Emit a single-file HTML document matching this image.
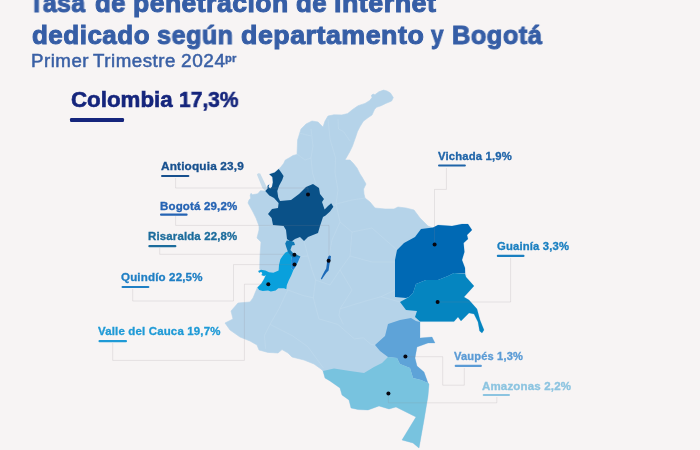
<!DOCTYPE html>
<html><head><meta charset="utf-8">
<style>
html,body{margin:0;padding:0;}
body{width:700px;height:450px;overflow:hidden;background:#f7f4f4;font-family:"Liberation Sans",sans-serif;position:relative;}
.t{position:absolute;white-space:nowrap;font-weight:bold;line-height:1;will-change:transform;}
.h1{top:-10.5px;font-size:26px;letter-spacing:0.45px;color:#365ea6;-webkit-text-stroke:1px #365ea6;}
.h2{top:22px;font-size:26px;letter-spacing:0.48px;color:#365ea6;-webkit-text-stroke:1px #365ea6;}
.h3{top:51.6px;font-size:18px;letter-spacing:0.5px;color:#3a60a5;font-weight:normal;-webkit-text-stroke:0.5px #3a60a5;}
.pr{top:54px;font-size:10px;letter-spacing:0.2px;}
.col{top:89px;font-size:22px;color:#15257c;-webkit-text-stroke:0.6px #15257c;}
#colu{position:absolute;left:69.5px;top:118.4px;width:54px;height:3.2px;border-radius:1.2px;background:#15257c;}
.w{transform-origin:0 0;}
.lb{font-size:10.5px;letter-spacing:0.15px;-webkit-text-stroke:0.3px;transform-origin:0 0;}
svg{position:absolute;left:0;top:0;}
</style></head><body>
<svg id="map" width="700" height="450" viewBox="0 0 700 450">
<polygon points="371.4,95.3 373.1,94.1 374.9,94.7 378.9,91.8 383.5,90.1 387,91 390.4,93 393.3,97.6 391.6,101 385.8,103.4 381.2,105.7 376.5,107.3 374.5,109.5 372,115 367.9,117.8 363.3,121.3 359.8,127 357.5,131.5 356,136 354.6,140 352.5,146 349.6,152 345,160 350,160 353,163 357,168 360,174 362,177 366,184 363.6,189 364,194 365,198 370,202 375,208 385,209 394,209 398,207 406,208 414,210 420,218 428,226 433,228 438,225 452,226 462,224 468,224 472,230 467,235 468,239 463.6,243 464.4,252 462,260 465,268 466,277 474,286 464,297 469,300 477,309 480,320 484,330 482,333 479.6,331 478,322 474,314 469,313 461,321 458,317 454,321.6 420,321.6 420,338 432,337 435,343 428,343 417,347 415,358 417,366 424,372 428,383 429,384 428,396 424,420 419,448 413,443 402,440 416,417 410,414 400,409 396,407 389,409 379,406 368,410 358,409.6 351,408 349,400 342,395 340,388 330,381 325,378 323,371 321,369 314,364 304,360 292,357 288,353 282,349.6 278,353 268,352.4 259,350 257,345 250,341 240,337 230,330 225,323 233,319 231,311 238,303 250,302 253,298 257.4,287.4 261.4,283.4 264.1,279 265.9,275 264.1,275.9 261.4,275 262.3,274.1 261.9,272.3 260.6,271.9 259.2,272.8 258.3,271 261,269.7 259.7,269.2 260,256 261,242 257,238 259,230 259,226 256,218 253,212 248,203 249,200 250.7,198.2 250.2,195.1 251.1,193.3 252.4,194.7 257.8,193.8 260.4,190.7 265.3,191.1 267.6,188.4 267.6,185.8 269.3,184.4 268.4,187.1 270.2,188.4 272,186.7 272.9,182.2 272.4,176.9 269.3,174.2 274.7,172.4 278.7,168.9 280.4,167.6 283.6,163.6 285.3,160 289,158 293,155.5 297,154.4 297.6,140 301,129 306,124 312,121 318,122 323,127 325,121 328,116 334,114.8 341.9,114.9 347.7,113.6 352.3,109.7 358.1,105.7 365,103.4 369.7,100.5 372,97.6" fill="#b5d3e9" stroke="#b5d3e9" stroke-width="0.6" stroke-linejoin="round"/>
<polygon points="256.9,174.4 258.2,173.2 260.2,173.4 267.4,188.6 265.3,191 262.4,188" fill="#c6dbea" />
<g fill="none" stroke="#c6deef" stroke-width="0.7" stroke-linejoin="round" stroke-opacity="0.6"><path d="M315.6,280 L313.3,297.8 L318.9,318.9 L337.8,324.4 L354.4,338.9 L363.3,337.8 L371,344.4 L375,345"/><path d="M340,308.9 L365.6,301 L381,296.7 L400,302"/><path d="M340,309 L339,315.6 L343.3,324.4"/><path d="M287.8,290 L278.9,308.9 L270,324.4 L264.4,335.6 L265.6,348.9"/><path d="M270,324.4 L292.2,335.6 L307.8,346.7 L323.3,367.8"/><path d="M287.8,290 L303,295.5 L313.3,297.8"/><path d="M311,129 L313,146 L311,158 L312.5,173 L316,184"/><path d="M328,119 L330,139 L335.6,158 L335,173 L338,190 L336,204"/><path d="M338,119 L338.5,129 L343.6,131.7 L350,141"/><path d="M298.8,133 L311,136"/><path d="M297,154 L305,160 L311,158"/><path d="M336,204 L352,200 L365,198"/><path d="M336,204 L340,222 L352,232 L372,228 L397,250"/><path d="M333,207 L336,204"/><path d="M340,222 L332,240 L329,256"/><path d="M352,232 L350,256 L340,270 L330,285 L315.6,280"/><path d="M350,256 L372,262 L395,262"/><path d="M340,270 L352,290 L340,308.9"/><path d="M395,290 L381,296.7"/><path d="M304,241 L308,256 L301,256.5"/><path d="M308,256 L312,270 L315.6,280"/><path d="M300,258 L296,268 L293.4,270.1"/><path d="M259,226 L268,226 L273,225"/><path d="M286.3,289.2 L287.8,290"/></g>
<polygon points="278.7,168.9 280.9,172 283.6,176 282.2,180 279.1,185.8 277.3,191.1 278.2,197.3 280,201 291,200 299,194 306,187 313,184 319,188 320,194 324,199 322,202 324.6,209.6 328,206 331.2,203.2 333.4,206.8 330,211.6 325.6,215.5 323,217 320,226 318,233 308,237 304,241 300,237 295,239 291,242 287,239 286,230 283.6,226 273,225 271.6,218 268,214 272,209 278,208 278.6,203 274,198 269.3,195.6 265.3,191.1 267.6,188.4 267.6,185.8 269.3,184.4 268.4,187.1 270.2,188.4 272,186.7 272.9,182.2 272.4,176.9 269.3,174.2 274.7,172.4" fill="#0a5188" />
<polygon points="433,227.6 438,225 452,226 462,224 468,224 472,230 467,235 468,239 463.6,243 464.4,252 462,260 465,268 465,273.5 454,273 448,276 438,280 426,280 416,284 413,293 409,297 406,298 395,297 395,260 397,250 404,243 415,237 421,229" fill="#0069b4" />
<polygon points="400,302 409,297 413,293 416,284 426,280 438,280 448,276 454,273 465,274 466,277 474,286 464,297 469,300 477,309 480,320 484,330 482,333 479.6,331 478,322 474,314 469,313 461,321 458,317 454,321.6 420,321.6 415,317 417,311 406,310" fill="#0585c0" />
<polygon points="388,324 400,320 411,318 416,321 420,322 420,338 432,337 435,343 428,343 417,347 415,358 417,366 424,372 428,383 421,380 413,378 410,368 400,364 397,358 388,357 380,351 375,345 385,336" fill="#5ea3d8" />
<polygon points="323,371 334,368.4 350,371 364,373 374,367 382,363 388,357 397,358 400,364 410,368 413,378 421,380 428,383 429,384 428,396 424,420 419,448 413,443 402,440 416,417 410,414 400,409 396,407 389,409 379,406 368,410 358,409.6 351,408 349,400 342,395 340,388 330,381 325,378" fill="#78c3df" />
<polygon points="288,251.3 285.2,252.8 282.6,256 280.4,259.2 279,265 278.6,270.4 273.4,272.8 269,272.3 265.4,270.6 261,269.7 258.3,271 259.2,272.8 260.6,271.9 261.9,272.3 262.3,274.1 261.4,275 264.1,275.9 265.9,275 264.1,279 261.4,283.4 257.4,287.4 259.2,290.1 262.8,291 268.1,290.6 270.8,291.4 275.7,290.6 278.3,288.3 284.1,288.3 286.3,289.2 286.8,285.2 288.6,280.8 291.2,275.4 293.4,270.1 291.2,268.3 291.2,260.3 291.7,257.7 290.4,253" fill="#09a0dc" />
<polygon points="286.8,240.4 291,241 294,242 295,245 292,245.6 290.4,250 293,253 300.4,256.4 299.6,258 292.4,258.4 291,256 288,252 286.4,247.6 285.2,243.6" fill="#0e78b4" />
<polygon points="291.7,257.7 300.1,256.8 298.3,261.2 295.7,266.6 293.4,270.1 291.2,268.3 291.2,260.3" fill="#1a86d4" />
<polygon points="329.2,255.6 331,256 330.6,259 329.8,262.4 329.2,266 328.6,270.4 326.4,272.8 323.4,277 321.8,279.4 320.8,278.8 322.6,275 324.4,271.4 326.2,268.6 326.8,264 327.2,260 328,257" fill="#1c6ab8"/>
<g fill="none" stroke="#8a888c" stroke-opacity="0.22" stroke-width="0.8"><path d="M175.6,178 V188 H308 V194"/><path d="M175.6,216 V225.4 H329 V258"/><path d="M159.7,248 V254.3 H294"/><path d="M132.7,289 V301 H233.5 V264.6 H294"/><path d="M112.7,343 V360.4 H244.4 V284.2 H268"/><path d="M446.4,168 V189.4 H434.5 V244"/><path d="M510.6,258 V302 H438"/><path d="M464.3,368 V385.2 H442.7 V356.7 H405.5"/><path d="M496.8,397 V402.8 H388.4 V394"/></g>
<rect x="161.0" y="174.9" width="28.4" height="2.2" rx="1" fill="#17508e"/>
<rect x="160.0" y="213.5" width="27.6" height="2.2" rx="1" fill="#2563b3"/>
<rect x="148.3" y="245.1" width="28.1" height="2.2" rx="1" fill="#1c6c9c"/>
<rect x="121.5" y="285.9" width="27.9" height="2.2" rx="1" fill="#1f7fc4"/>
<rect x="98.5" y="340.1" width="28.5" height="2.2" rx="1" fill="#1f9ad6"/>
<rect x="438.0" y="164.4" width="27.9" height="2.2" rx="1" fill="#1f64a8"/>
<rect x="496.8" y="254.7" width="27.7" height="2.2" rx="1" fill="#1a7fc0"/>
<rect x="454.7" y="364.7" width="27.2" height="2.2" rx="1" fill="#5b9bd5"/>
<rect x="482.7" y="393.9" width="27.3" height="2.2" rx="1" fill="#8cc4e0"/>
<g fill="#06060f"><circle cx="308.0" cy="194.6" r="2"/><circle cx="328.6" cy="260.8" r="2"/><circle cx="294.4" cy="254.8" r="2"/><circle cx="294.5" cy="264.6" r="2"/><circle cx="268.3" cy="284.2" r="2"/><circle cx="434.6" cy="244.4" r="2"/><circle cx="437.6" cy="302.0" r="2"/><circle cx="405.4" cy="356.6" r="2"/><circle cx="388.4" cy="393.4" r="2"/></g>
</svg>
<div class="t pr" style="left:224.6px;transform:scaleX(1.12);transform-origin:0 0;color:#3a60a5;-webkit-text-stroke:0.3px #3a60a5">pr</div>
<div class="t h1 w" id="w0" style="left:29.38px;transform:scaleX(0.9571)">Tasa</div>
<div class="t h1 w" id="w1" style="left:95.22px;transform:scaleX(0.9901)">de</div>
<div class="t h1 w" id="w2" style="left:133.04px;transform:scaleX(1.0214)">penetración</div>
<div class="t h1 w" id="w3" style="left:296.00px;transform:scaleX(0.9951)">de</div>
<div class="t h1 w" id="w4" style="left:333.82px;transform:scaleX(1.0348)">internet</div>
<div class="t h2 w" id="w5" style="left:32.06px;transform:scaleX(1.0002)">dedicado</div>
<div class="t h2 w" id="w6" style="left:157.28px;transform:scaleX(0.9694)">según</div>
<div class="t h2 w" id="w7" style="left:241.28px;transform:scaleX(1.0317)">departamento</div>
<div class="t h2 w" id="w8" style="left:430.84px;transform:scaleX(0.8646)">y</div>
<div class="t h2 w" id="w9" style="left:452.38px;transform:scaleX(0.9783)">Bogotá</div>
<div class="t h3 w" id="w10" style="left:31.38px;transform:scaleX(1.0369)">Primer</div>
<div class="t h3 w" id="w11" style="left:92.94px;transform:scaleX(1.0382)">Trimestre</div>
<div class="t h3 w" id="w12" style="left:180.72px;transform:scaleX(1.0587)">2024</div>
<div class="t col w" id="w13" style="left:70.78px;transform:scaleX(1.0139)">Colombia</div>
<div class="t col w" id="w14" style="left:179.26px;transform:scaleX(0.9550)">17,3%</div>
<div id="colu"></div>
<div class="t lb" id="l0" style="left:161.3px;top:161.0px;color:#17508e;transform:scaleX(1.1239)">Antioquia 23,9</div>
<div class="t lb" id="l1" style="left:159.7px;top:201.0px;color:#2563b3;transform:scaleX(1.0953)">Bogotá 29,2%</div>
<div class="t lb" id="l2" style="left:148.0px;top:231.0px;color:#1c6c9c;transform:scaleX(1.0874)">Risaralda 22,8%</div>
<div class="t lb" id="l3" style="left:121.2px;top:272.0px;color:#1f7fc4;transform:scaleX(1.0982)">Quindío 22,5%</div>
<div class="t lb" id="l4" style="left:98.2px;top:326.2px;color:#1f9ad6;transform:scaleX(1.0916)">Valle del Cauca 19,7%</div>
<div class="t lb" id="l5" style="left:437.7px;top:151.0px;color:#1f64a8;transform:scaleX(1.0763)">Vichada 1,9%</div>
<div class="t lb" id="l6" style="left:496.5px;top:241.0px;color:#1a7fc0;transform:scaleX(1.0740)">Guainía 3,3%</div>
<div class="t lb" id="l7" style="left:454.4px;top:351.0px;color:#5b9bd5;transform:scaleX(1.0578)">Vaupés 1,3%</div>
<div class="t lb" id="l8" style="left:482.4px;top:381.0px;color:#8cc4e0;transform:scaleX(1.0959)">Amazonas 2,2%</div>
</body></html>
